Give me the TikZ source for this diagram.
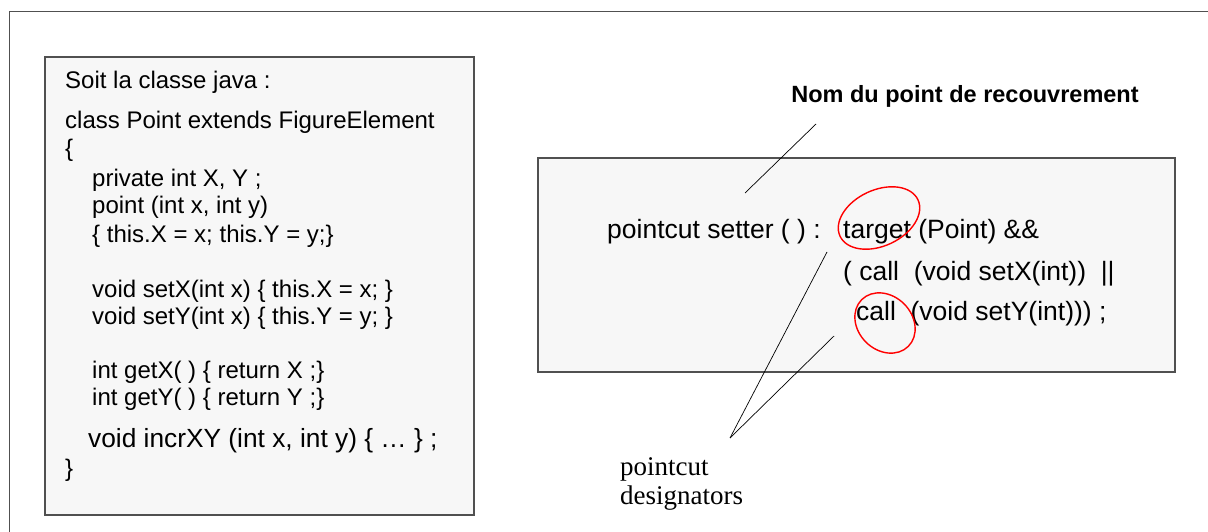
\documentclass[tikz,border=0pt]{standalone}
\usepackage{fontspec}
\setmainfont{Liberation Sans}
\newfontfamily\serifcap{Liberation Serif}
\usepackage{tikz}
\usetikzlibrary{calc}

\definecolor{boxgray}{HTML}{F7F7F7}
\definecolor{framegray}{HTML}{505050}

\begin{document}
\begin{tikzpicture}[x=1pt, y=-1pt,
  code/.style={anchor=base west, inner sep=0pt, font=\fontsize{24}{28}\selectfont},
  bigcode/.style={anchor=base west, inner sep=0pt, font=\fontsize{26.3}{30}\selectfont},
  cut/.style={anchor=base west, inner sep=0pt, font=\fontsize{26.5}{31}\selectfont},
  ring/.style={draw=red, line width=1.4pt},
  link/.style={draw=black, line width=0.7pt}]

\useasboundingbox (0,0) rectangle (1208,532);

% slide frame
\draw[framegray, line width=1.3pt] (9.5,532) -- (9.5,11.5) -- (1208,11.5);

% the java class
\draw[framegray, fill=boxgray, line width=1.1pt] (45,57) rectangle (474,515);
\node[code] (soit) at (65,89) {Soit la classe java :};
\node[code] (cls) at (65,129) {class Point extends FigureElement};
\node[code] (open) at (65,157) {\{};
\node[code] (priv) at (92,186) {private int X, Y ;};
\node[code] (ctor) at (92,214) {point (int x, int y)};
\node[code] (body) at (92,242) {\{ this.X = x; this.Y = y;\}};
\node[code] (setx) at (92,297) {void setX(int x) \{ this.X = x; \}};
\node[code] (sety) at (92,324) {void setY(int x) \{ this.Y = y; \}};
\node[code] (getx) at (92,378) {int getX( ) \{ return X ;\}};
\node[code] (gety) at (92,405) {int getY( ) \{ return Y ;\}};
\node[bigcode] (incr) at (88,447) {void incrXY (int x, int y) \{ \dots\ \} ;};
\node[code] (close) at (65,476) {\}};

% the pointcut
\draw[framegray, fill=boxgray, line width=1.1pt] (538,158) rectangle (1175,372);
\node[cut] (setter) at (607,238) {pointcut setter ( ) :};
\node[cut] (target) at (843,238) {target (Point) \&\&};
\node[cut] (callx) at (843,280) {( call~~(void setX(int))~~||};
\node[cut] (cally) at (856,320) {call~~(void setY(int))) ;};

\draw[ring, rotate around={25:(879,218)}] (879,218) ellipse [x radius=43, y radius=28];
\draw[ring, rotate around={-45:(885,323)}] (885,323) ellipse [x radius=33, y radius=27];

% labels
\node[anchor=base, inner sep=0pt, font=\bfseries\fontsize{23.5}{28}\selectfont] (nom) at (965,103) {Nom du point de recouvrement};
\node[anchor=base west, inner sep=0pt, font=\serifcap\fontsize{27}{30}\selectfont] (desig1) at (620,475) {pointcut};
\node[anchor=base west, inner sep=0pt, font=\serifcap\fontsize{27}{30}\selectfont] (desig2) at (620,504) {designators};

\coordinate (nomtip) at (816,124);
\coordinate (nomend) at (745,193);
\coordinate (apex) at (730,438);
\coordinate (tgt) at (827,252);
\coordinate (cl) at (834,336);
\draw[link] (nomtip) -- (nomend);
\draw[link] (apex) -- (tgt);
\draw[link] (apex) -- (cl);

\end{tikzpicture}
\end{document}
